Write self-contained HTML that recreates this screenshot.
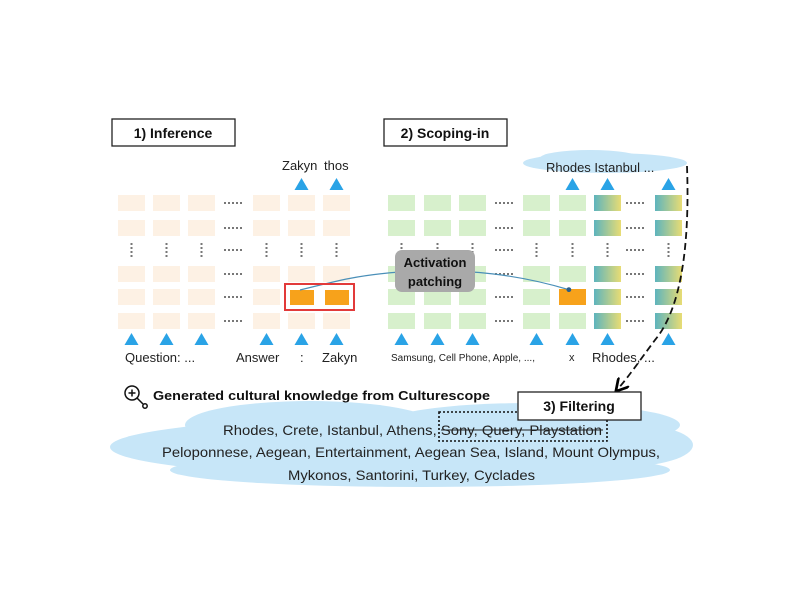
<!DOCTYPE html>
<html><head><meta charset="utf-8">
<style>
body{margin:0;background:#fff;}
svg{display:block;font-family:"Liberation Sans",sans-serif;}
</style></head>
<body>
<svg id="fig" width="800" height="600" viewBox="0 0 800 600" xmlns="http://www.w3.org/2000/svg">
<defs>
<linearGradient id="tg" x1="0" x2="1" y1="0" y2="0">
<stop offset="0" stop-color="#5db4bd"/><stop offset="1" stop-color="#e8dc74"/>
</linearGradient>
<marker id="ah" markerWidth="8" markerHeight="8" refX="6" refY="4" orient="auto"><path d="M0,0 L7,4 L0,8" fill="none" stroke="#000" stroke-width="1.5"/></marker>
<marker id="bh" markerWidth="6" markerHeight="6" refX="4" refY="3" orient="auto"><circle cx="3" cy="3" r="2" fill="#2a5f8a"/></marker>
</defs>

<!-- bottom cloud -->
<g fill="#c7e6f8">
<ellipse cx="400" cy="447" rx="290" ry="30"/>
<ellipse cx="310" cy="425" rx="125" ry="24"/>
<ellipse cx="530" cy="425" rx="150" ry="22"/>
<ellipse cx="420" cy="470" rx="250" ry="17"/>
<ellipse cx="620" cy="445" rx="73" ry="22"/>
</g>

<!-- top cloud -->
<g fill="#c7e6f8">
<ellipse cx="605" cy="163" rx="82" ry="10"/>
<ellipse cx="590" cy="158" rx="50" ry="8"/>
</g>
<text x="546" y="172" font-size="13" fill="#222">Rhodes  Istanbul ...</text>

<!-- section boxes -->
<rect x="112" y="119" width="123" height="27" fill="#fff" stroke="#222" stroke-width="1.3"/>
<text x="173" y="138" font-size="14" font-weight="bold" text-anchor="middle" fill="#111">1) Inference</text>
<rect x="384" y="119" width="123" height="27" fill="#fff" stroke="#222" stroke-width="1.3"/>
<text x="445" y="138" font-size="14" font-weight="bold" text-anchor="middle" fill="#111">2) Scoping-in</text>

<text x="282" y="170" font-size="13" fill="#222">Zakyn</text>
<text x="324" y="170" font-size="13" fill="#222">thos</text>

<g id="grids"></g>

<!-- patching line -->
<path d="M300,290 C340,280 360,275 400,272 C470,268 520,275 570,290" fill="none" stroke="#4a8fb8" stroke-width="1.2" marker-end="url(#bh)"/>
<rect x="285" y="284" width="69" height="26" fill="none" stroke="#e23a3a" stroke-width="2"/>
<rect x="395" y="250" width="80" height="42" rx="7" fill="#a9a9a9"/>
<text x="435" y="267" font-size="13" font-weight="bold" text-anchor="middle" fill="#111">Activation</text>
<text x="435" y="286" font-size="13" font-weight="bold" text-anchor="middle" fill="#111">patching</text>

<!-- bottom labels -->
<text x="125" y="362" font-size="13" fill="#222">Question: ...</text>
<text x="236" y="362" font-size="13" fill="#222">Answer</text>
<text x="300" y="362" font-size="13" fill="#222">:</text>
<text x="322" y="362" font-size="13" fill="#222">Zakyn</text>
<text x="391" y="361" font-size="10" fill="#222">Samsung, Cell Phone, Apple, ...,</text>
<text x="569" y="361" font-size="11" fill="#222">x</text>
<text x="592" y="362" font-size="13" fill="#222">Rhodes, ...</text>

<!-- dashed curve -->
<path d="M687,166 C690,250 680,310 655,340 C640,360 630,375 617,390" fill="none" stroke="#111" stroke-width="1.8" stroke-dasharray="7,4" marker-end="url(#ah)"/>

<!-- magnifier -->
<g stroke="#111" stroke-width="1.5" fill="none">
<circle cx="132" cy="393" r="7"/><path d="M128.5,393 h7 M132,389.5 v7 M137,398 l6,6"/>
<circle cx="145" cy="406" r="2.2"/>
</g>
<text x="153" y="400" font-size="13" font-weight="bold" fill="#111" textLength="337" lengthAdjust="spacingAndGlyphs">Generated cultural knowledge from Culturescope</text>

<rect x="439" y="412" width="168" height="29" fill="none" stroke="#111" stroke-width="1.6" stroke-dasharray="2,2"/>
<rect x="518" y="392" width="123" height="28" fill="#fff" stroke="#222" stroke-width="1.3"/>
<text x="579" y="411" font-size="14" font-weight="bold" text-anchor="middle" fill="#111">3) Filtering</text>

<g font-size="14" fill="#222">
<text x="223" y="435" textLength="379" lengthAdjust="spacingAndGlyphs">Rhodes, Crete, Istanbul, Athens, Sony, Query, Playstation</text>
<line x1="441" y1="430" x2="603" y2="430" stroke="#222" stroke-width="1"/>
<text x="162" y="457" textLength="498" lengthAdjust="spacingAndGlyphs">Peloponnese, Aegean, Entertainment, Aegean Sea, Island, Mount Olympus,</text>
<text x="288" y="480" textLength="247" lengthAdjust="spacingAndGlyphs">Mykonos, Santorini, Turkey, Cyclades</text>
</g>
</svg>
<script>
const NS="http://www.w3.org/2000/svg";
const g=document.getElementById('grids');
const rowsY=[195,220,266,289,313];
const dotsRowY=243;
const leftCols=[118,153,188,253,288,323];
const rightCols=[388,424,459,523,559,594,655];
function mk(tag,attrs){const e=document.createElementNS(NS,tag);for(const k in attrs)e.setAttribute(k,attrs[k]);g.appendChild(e);return e;}
function tri(cx,y){const e=mk('path',{d:`M${cx-7},${y+12} L${cx},${y} L${cx+7},${y+12} Z`,fill:'#2aa3e6'});

}
function hdots(x,y){const e=mk('line',{x1:x,y1:y,x2:x+20,y2:y,stroke:'#777','stroke-width':2,'stroke-dasharray':'2,2'});

}
function vdots(x,y){const e=mk('line',{x1:x,y1:y,x2:x,y2:y+15,stroke:'#777','stroke-width':2,'stroke-dasharray':'2,2'});

}
leftCols.forEach((x,ci)=>{
 rowsY.forEach((y,ri)=>{
  let fill='#fdf1e4';
  if(ri===3&&ci>=4) fill='#f7a21b';
  const r=mk('rect',{x:x+(fill==='#f7a21b'?2:0),y:y+(fill==='#f7a21b'?1:0),width:fill==='#f7a21b'?24:27,height:fill==='#f7a21b'?15:16,fill:fill});
  
  
 });
 vdots(x+13.5,dotsRowY);
 tri(x+13.5,333);
});
tri(leftCols[4]+13.5,178);tri(leftCols[5]+13.5,178);
[...rowsY,dotsRowY].forEach(y=>hdots(224,y+(y===dotsRowY?7:8)));
rightCols.forEach((x,ci)=>{
 rowsY.forEach((y,ri)=>{
  let fill='#d7f0cc';
  if(ci>=5) fill='url(#tg)';
  if(ri===3&&ci===4) fill='#f7a21b';
  const r=mk('rect',{x:x,y:y,width:27,height:16,fill:fill});
  
  
 });
 vdots(x+13.5,dotsRowY);
 tri(x+13.5,333);
});
tri(rightCols[4]+13.5,178);tri(rightCols[5]+13.5,178);tri(rightCols[6]+13.5,178);
[...rowsY,dotsRowY].forEach(y=>{hdots(495,y+(y===dotsRowY?7:8));hdots(626,y+(y===dotsRowY?7:8));});
</script>
</body></html>
